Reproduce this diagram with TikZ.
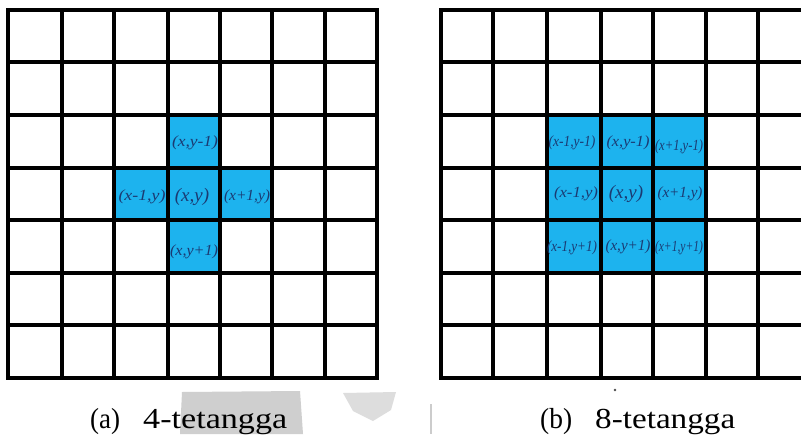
\documentclass[tikz,border=0pt]{standalone}
\usepackage{fontspec}
\usepackage{graphicx}
\newfontfamily\lblfont{Liberation Serif}
\definecolor{cellblue}{HTML}{1DB3EE}
\definecolor{lblnavy}{HTML}{1B3A72}
\definecolor{smudge}{HTML}{CFCFCF}
\newcommand\fitw[2]{\resizebox{#1}{\height}{#2}}
\tikzset{
  gridline/.style={line width=3.2pt, black, line cap=rect},
  lab/.style={inner sep=0pt, text=lblnavy, font=\lblfont\itshape\fontsize{15.5}{15.5}\selectfont},
  biglab/.style={inner sep=0pt, text=lblnavy, font=\lblfont\itshape\fontsize{19}{19}\selectfont},
  captxt/.style={inner sep=0pt, anchor=base west, font=\lblfont\fontsize{29}{29}\selectfont}
}
\begin{document}
\begin{tikzpicture}[x=1pt,y=-1pt]
\useasboundingbox (0,0) rectangle (801,434);
\fill[white] (0,0) rectangle (801,434);
% scan smudges
\fill[smudge] (182,392) -- (300,391) -- (303,434) -- (180,434) -- cycle;
\fill[smudge!70] (343,393) -- (396,392) -- (391,410) -- (373,421) -- (353,411) -- cycle;
\draw[gray!40, line width=2.5pt] (431,404) -- (431,434);
\fill[black!70] (615,390) circle (1.4);
% left grid: blue cross
\fill[cellblue] (168,115) rectangle (220,273);
\fill[cellblue] (115,168) rectangle (272,220);
\foreach \x in {8,62,114,168,220,272,325,377}
  \draw[gridline] (\x,10) -- (\x,378);
\foreach \y in {10,62,115,168,220,273,325,378}
  \draw[gridline] (8,\y) -- (377,\y);
% right grid: blue 3x3
\fill[cellblue] (547,115) rectangle (706,273);
\foreach \x in {441,493,547,601,653,706,758}
  \draw[gridline] (\x,10) -- (\x,378);
\foreach \y in {10,62,115,168,220,273,325,378}
  \draw[gridline] (441,\y) -- (801,\y);
% left labels
\node[lab] (l1) at (195,143) {\fitw{46pt}{(x,y-1)}};
\node[lab] (l2) at (142,197) {\fitw{47pt}{(x-1,y)}};
\node[biglab] (l3) at (192,197) {(x,y)};
\node[lab] (l4) at (247,197) {\fitw{46pt}{(x+1,y)}};
\node[lab] (l5) at (194,252) {\fitw{48pt}{(x,y+1)}};
% right labels
\node[lab] (r1) at (572,143) {\fitw{47pt}{(x-1,y-1)}};
\node[lab] (r2) at (628,143) {\fitw{43pt}{(x,y-1)}};
\node[lab] (r3) at (679,147) {\fitw{48pt}{(x+1,y-1)}};
\node[lab] (r4) at (576,194) {\fitw{44pt}{(x-1,y)}};
\node[biglab] (r5) at (626,194) {(x,y)};
\node[lab] (r6) at (680,194) {\fitw{45pt}{(x+1,y)}};
\node[lab] (r7) at (572,248) {\fitw{50pt}{(x-1,y+1)}};
\node[lab] (r8) at (628,247) {\fitw{45pt}{(x,y+1)}};
\node[lab] (r9) at (679,248) {\fitw{48pt}{(x+1,y+1)}};
% captions
\node[captxt] (capa) at (90,428) {\fitw{30pt}{(a)}};
\node[captxt] (capat) at (143,428) {\fitw{144pt}{4-tetangga}};
\node[captxt] (capb) at (540,428) {\fitw{32pt}{(b)}};
\node[captxt] (capbt) at (595,428) {\fitw{140pt}{8-tetangga}};
\end{tikzpicture}
\end{document}
